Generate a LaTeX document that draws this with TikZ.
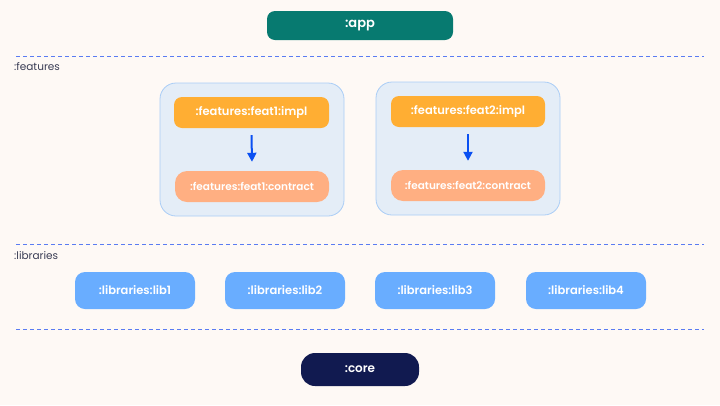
\documentclass[tikz,border=0pt]{standalone}
\usepackage{fontspec}
\setmainfont{Poppins}[BoldFont={Poppins SemiBold}]
\usetikzlibrary{arrows.meta}
\definecolor{bgc}{HTML}{FEF9F5}
\definecolor{appc}{HTML}{077A70}
\definecolor{dashc}{HTML}{5A7CF2}
\definecolor{grpfill}{HTML}{E4EDF7}
\definecolor{grpdraw}{HTML}{AACDF6}
\definecolor{implc}{HTML}{FFAE33}
\definecolor{contc}{HTML}{FFAF82}
\definecolor{arrc}{HTML}{0A50F2}
\definecolor{libc}{HTML}{69ADFF}
\definecolor{corec}{HTML}{111A50}
\definecolor{labc}{HTML}{3A3D55}
\begin{document}
\begin{tikzpicture}[x=1pt,y=-1pt,
  box/.style={rounded corners=#1, inner sep=0pt, text=white, align=center},
  box/.default=8pt,
  sep/.style={draw=dashc, dash pattern=on 4pt off 3pt, line width=0.8pt},
  lab/.style={anchor=west, inner sep=0pt, text=labc, font=\fontsize{10.5}{12}\selectfont},
  grp/.style={fill=grpfill, draw=grpdraw, line width=0.8pt, rounded corners=16pt},
  dep/.style={draw=arrc, line width=2pt, -{Triangle[length=9pt,width=9pt]}}
]
\fill[bgc] (0,0) rectangle (720,405);
\useasboundingbox (0,0) rectangle (720,405);
% app
\node[box, fill=appc, minimum width=186pt, minimum height=29pt, font=\fontsize{13}{15}\selectfont\bfseries] (app) at (360,25.5) {:app};
% separators
\coordinate (s1l) at (16,56); \coordinate (s1r) at (704,56);
\draw[sep] (s1l) -- (s1r);
\node[lab] (lfeat) at (14,66.5) {:features};
% groups
\draw[grp] (160,83) rectangle (344,216);
\draw[grp] (376,82) rectangle (560,215);
\node[box, fill=implc, minimum width=155pt, minimum height=31pt, font=\fontsize{11.5}{13}\selectfont\bfseries] (i1) at (251.5,112.5) {:features:feat1:impl};
\node[box=12pt, fill=contc, minimum width=154pt, minimum height=31pt, font=\fontsize{10.5}{12}\selectfont\bfseries] (c1) at (252,186.5) {:features:feat1:contract};
\node[box, fill=implc, minimum width=154pt, minimum height=31pt, font=\fontsize{11.5}{13}\selectfont\bfseries] (i2) at (468,111.5) {:features:feat2:impl};
\node[box=12pt, fill=contc, minimum width=154pt, minimum height=31pt, font=\fontsize{10.5}{12}\selectfont\bfseries] (c2) at (468,185.5) {:features:feat2:contract};
\draw[dep] ([yshift=-7pt]i1.south) -- ([yshift=9pt]c1.north);
\draw[dep] ([yshift=-7pt]i2.south) -- ([yshift=9pt]c2.north);
% libraries
\coordinate (s2l) at (16,244); \coordinate (s2r) at (704,244);
\draw[sep] (s2l) -- (s2r);
\node[lab] (llib) at (14,255.5) {:libraries};
\foreach \x/\n in {135/1,285/2,435/3,586/4}{
  \node[box=10pt, fill=libc, minimum width=120pt, minimum height=37pt, font=\fontsize{11.5}{13}\selectfont\bfseries] (lib\n) at (\x,290.5) {:libraries:lib\n};
}
\coordinate (s3l) at (16,329); \coordinate (s3r) at (704,329);
\draw[sep] (s3l) -- (s3r);
% core
\node[box=14pt, fill=corec, minimum width=118pt, minimum height=33pt, font=\fontsize{12}{14}\selectfont\bfseries] (core) at (360,369.5) {:core};
\end{tikzpicture}
\end{document}
